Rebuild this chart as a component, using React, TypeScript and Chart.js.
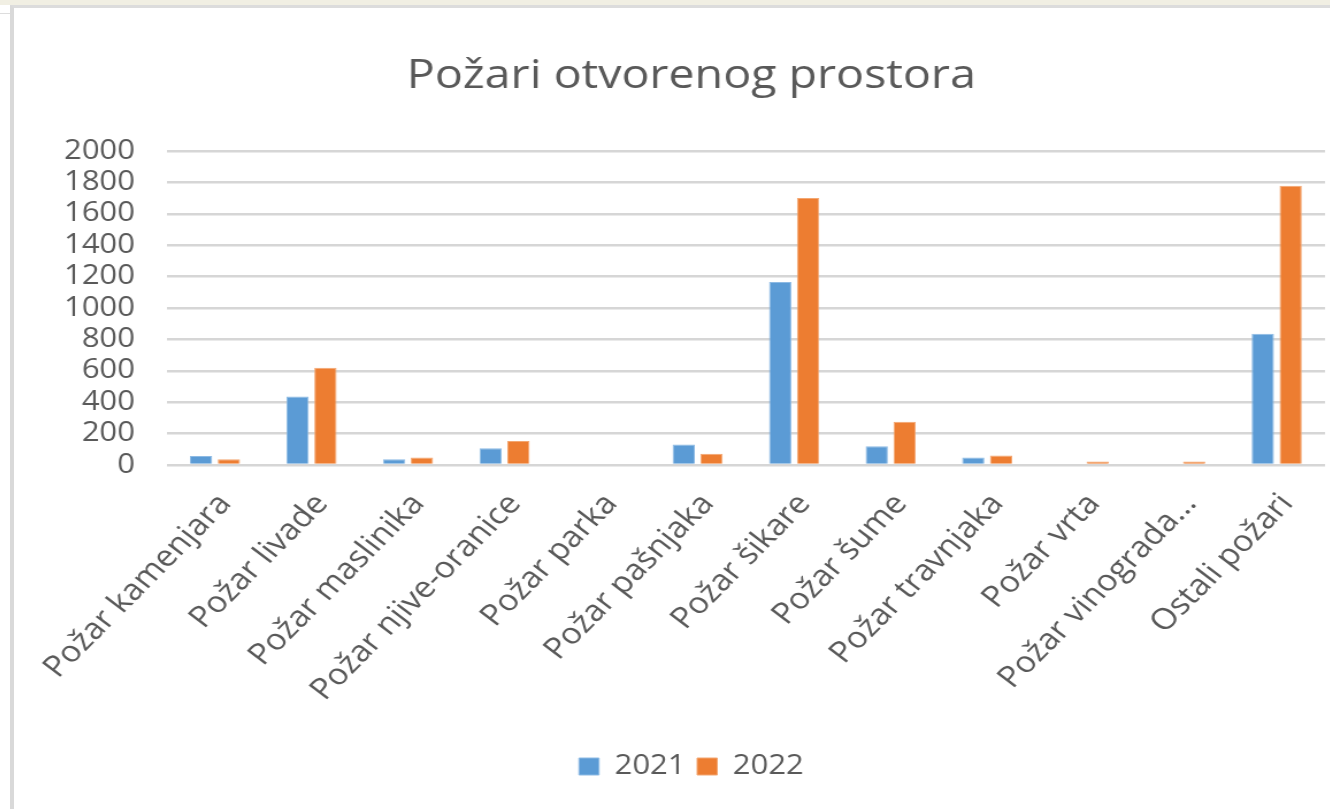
import React, { useEffect, useRef } from 'react';
import { Chart, registerables } from 'chart.js';

Chart.register(...registerables);

const categories = [
  'Požar kamenjara',
  'Požar livade',
  'Požar maslinika',
  'Požar njive-oranice',
  'Požar parka',
  'Požar pašnjaka',
  'Požar šikare',
  'Požar šume',
  'Požar travnjaka',
  'Požar vrta',
  'Požar vinograda...',
  'Ostali požari',
];
const values2021 = [57, 437, 36, 106, 0, 131, 1165, 120, 47, 0, 0, 836];
const values2022 = [36, 620, 47, 153, 0, 71, 1700, 275, 60, 22, 22, 1778];
const seriesLabels = ['2021', '2022'];
const yMin = 0;
const yMax = 2000;
const yStep = 200;
const chartTitle = 'Požari otvorenog prostora';

const STRETCH = 1.15;
const CW = 1170;
const CH = 801;
const TEXT = '#595959';
const FONT = 'Open Sans';

export default function App() {
  const ref = useRef<HTMLCanvasElement | null>(null);

  useEffect(() => {
    if (!ref.current) return;
    const chart = new Chart(ref.current, {
      type: 'bar',
      data: {
        labels: categories,
        datasets: [
          {
            label: seriesLabels[0],
            data: values2021,
            backgroundColor: '#5B9BD5',
            borderColor: '#8DBAE4',
            borderWidth: 1,
            categoryPercentage: 0.577,
            barPercentage: 0.8,
          },
          {
            label: seriesLabels[1],
            data: values2022,
            backgroundColor: '#ED7D31',
            borderColor: '#F3A772',
            borderWidth: 1,
            categoryPercentage: 0.577,
            barPercentage: 0.8,
          },
        ],
      },
      options: {
        responsive: false,
        animation: false,
        layout: { padding: { left: 38, right: 30, top: 0, bottom: 19 } },
        plugins: {
          title: {
            display: true,
            text: chartTitle,
            color: TEXT,
            font: { family: FONT, size: 40.5, weight: 'normal' },
            padding: { top: 44, bottom: 50.4 },
          },
          legend: {
            position: 'bottom',
            labels: {
              color: TEXT,
              font: { family: FONT, size: 27 },
              boxWidth: 17.5,
              boxHeight: 17,
              padding: 10,
            },
          },
          tooltip: { enabled: false },
        },
        scales: {
          x: {
            grid: { display: false },
            border: { display: false },
            ticks: {
              color: TEXT,
              font: { family: FONT, size: 29.5 },
              autoSkip: false,
              maxRotation: 49,
              minRotation: 49,
              padding: 14,
              labelOffset: 9,
            },
            afterFit: (s: any) => {
              s.height = 278;
            },
          },
          y: {
            min: yMin,
            max: yMax,
            ticks: {
              stepSize: yStep,
              autoSkip: false,
              color: TEXT,
              font: { family: FONT, size: 27 },
              padding: 27.6,
              callback: (v: any) => String(v),
            },
            grid: { color: '#d6d6d6', lineWidth: 2.5, drawTicks: false },
            border: { display: false },
            afterFit: (s: any) => {
              s.width = 94.8;
            },
          },
        },
      },
    });
    return () => chart.destroy();
  }, []);

  return (
    <div
      style={{
        position: 'fixed',
        left: 0,
        top: 0,
        width: 1330,
        height: 809,
        overflow: 'hidden',
        background: '#ffffff',
      }}
    >
      <div style={{ position: 'absolute', left: 0, top: 0, width: 1330, height: 5, background: '#f1efe3' }} />
      <div style={{ position: 'absolute', left: 0, top: 13, width: 10, height: 1, background: '#dddddd' }} />
      <div
        style={{
          position: 'absolute',
          left: 10,
          top: 5,
          width: 1340,
          height: 820,
          borderLeft: '4px solid #d9d9d9',
          borderTop: '3px solid #dcdcdc',
          background: '#ffffff',
        }}
      />
      <div
        style={{
          position: 'absolute',
          left: 14,
          top: 8,
          width: CW,
          height: CH,
          transform: `scaleX(${STRETCH})`,
          transformOrigin: '0 0',
        }}
      >
        <canvas ref={ref} width={CW} height={CH} style={{ display: 'block' }} />
      </div>
    </div>
  );
}
